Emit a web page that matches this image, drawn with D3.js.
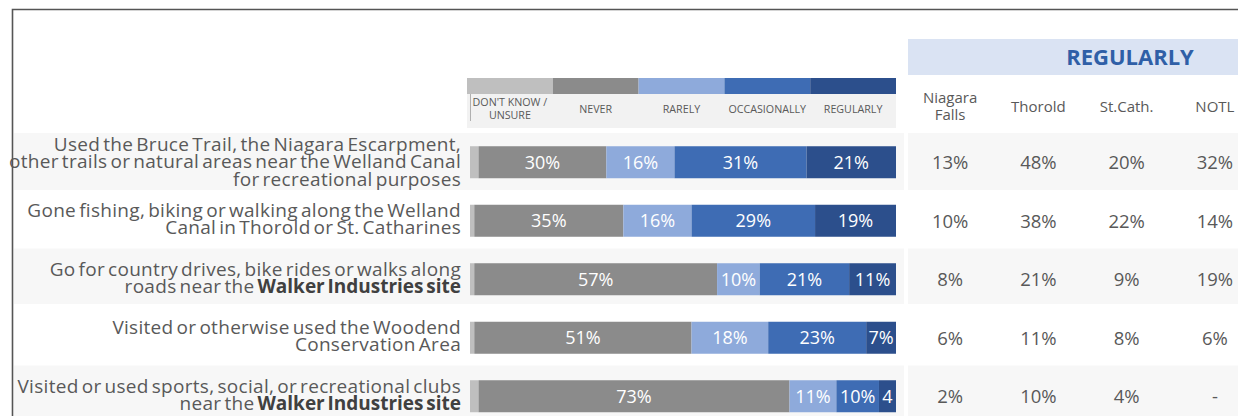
<!DOCTYPE html>
<html>
<head>
<meta charset="utf-8">
<script src="https://cdn.jsdelivr.net/npm/d3@7"></script>
<style>
  html, body { margin: 0; padding: 0; background: #fff; }
  svg { display: block; font-family: "Open Sans", "Noto Sans", sans-serif; }
</style>
</head>
<body>
<svg id="chart" width="1238" height="416"></svg>
<script>
// Activity statements (rows); bold fragments wrapped in **...**
const categories = [
  ["Used the Bruce Trail, the Niagara Escarpment,", "other trails or natural areas near the Welland Canal", "for recreational purposes"],
  ["Gone fishing, biking or walking along the Welland", "Canal in Thorold or St. Catharines"],
  ["Go for country drives, bike rides or walks along", "roads near the **Walker Industries site**"],
  ["Visited or otherwise used the Woodend", "Conservation Area"],
  ["Visited or used sports, social, or recreational clubs", "near the **Walker Industries site**"]
];

// Response levels, in stacking order
const levels = ["DON'T KNOW / UNSURE", "NEVER", "RARELY", "OCCASIONALLY", "REGULARLY"];
const levelColors = ["#bfbfbf", "#8b8b8b", "#8eaadb", "#3e6cb4", "#2c4f8c"];

// Percent of respondents per level, one value per row
const dontKnow     = [2, 1, 1, 1, 2];
const never        = [30, 35, 57, 51, 73];
const rarely       = [16, 16, 10, 18, 11];
const occasionally = [31, 29, 21, 23, 10];
const regularly    = [21, 19, 11, 7, 4];

// "Regularly" share by municipality (null = not reported)
const cities = [["Niagara", "Falls"], ["Thorold"], ["St.Cath."], ["NOTL"]];
const niagaraFalls = [13, 10, 8, 6, 2];
const thorold      = [48, 38, 21, 11, 10];
const stCath       = [20, 22, 9, 8, 4];
const notl         = [32, 14, 19, 6, null];

const seriesByLevel = [dontKnow, never, rarely, occasionally, regularly];
const cityValues = [niagaraFalls, thorold, stCath, notl];

const svg = d3.select("#chart");
const textColor = "#595959";

const rowIds = d3.range(categories.length);
const y = d3.scaleBand().domain(rowIds).range([133, 425.5]);
const x = d3.scaleLinear().domain([0, 100]).range([470, 896]);
const colX = d3.scaleBand().domain(d3.range(cities.length)).range([908, 1261]);

// Frame
svg.append("path")
  .attr("d", "M12.5,416 V9.5 H1238")
  .attr("fill", "none").attr("stroke", "#555").attr("stroke-width", 1.6);

// Alternating row shading
const shaded = rowIds.filter(i => i % 2 === 0);
const band = svg.append("g");
shaded.forEach(i => {
  const top = y(i) + (i === 0 ? 0 : -1.5);
  const h = i === 0 ? 57 : 55.5;
  band.append("rect").attr("x", 14).attr("y", top).attr("width", 890).attr("height", h).attr("fill", "#f7f7f7");
  band.append("rect").attr("x", 908).attr("y", top).attr("width", 330).attr("height", h).attr("fill", "#f7f7f7");
});

// Legend: colour strip with level names beneath
const legend = svg.append("g");
const segW = (x(100) - 467) / levels.length;
legend.append("rect").attr("x", 467).attr("y", 94).attr("width", x(100) - 467).attr("height", 34).attr("fill", "#f2f2f2");
levels.forEach((lv, i) => {
  legend.append("rect").attr("x", 467 + i * segW).attr("y", 78).attr("width", segW).attr("height", 16).attr("fill", levelColors[i]);
  const cx = 467 + (i + 0.5) * segW;
  const t = legend.append("text").attr("text-anchor", "middle").attr("fill", textColor).attr("font-size", 10.7);
  if (i === 0) {
    t.append("tspan").attr("x", cx).attr("y", 106).text("DON'T KNOW /");
    t.append("tspan").attr("x", cx).attr("y", 119).text("UNSURE");
  } else {
    t.attr("x", cx).attr("y", 113).text(lv);
  }
});
legend.append("line").attr("x1", 470.5).attr("x2", 470.5).attr("y1", 94).attr("y2", 121).attr("stroke", "#b0b0b0").attr("stroke-width", 1);

// Row labels
const labels = svg.append("g").attr("text-anchor", "end").attr("fill", textColor).attr("font-size", 19);
categories.forEach((lines, i) => {
  const cy = y(i) + y.bandwidth() / 2;
  const lh = 17.4;
  const t = labels.append("text").attr("letter-spacing", 0.3).attr("word-spacing", -2.2);
  lines.forEach((ln, j) => {
    const ly = cy + (j - (lines.length - 1) / 2) * lh + 6 - (lines.length === 3 ? 0 : 1);
    const ts = t.append("tspan").attr("x", 461).attr("y", ly);
    ln.split(/(\*\*[^*]+\*\*)/).filter(s => s.length).forEach(part => {
      const bold = part.startsWith("**");
      ts.append("tspan").attr("font-weight", bold ? 700 : 400).attr("fill", bold ? "#404040" : textColor)
        .attr("letter-spacing", bold ? 0 : null)
        .text(bold ? part.slice(2, -2) : part);
    });
  });
});

// Stacked bars
const stackData = rowIds.map(i => {
  const o = { row: i };
  levels.forEach((lv, k) => o[lv] = seriesByLevel[k][i]);
  return o;
});
const stacked = d3.stack().keys(levels)(stackData);
const barH = 32;
const bars = svg.append("g");
stacked.forEach((layer, k) => {
  const g = bars.append("g").attr("fill", levelColors[k]);
  layer.forEach(d => {
    const cy = y(d.data.row) + y.bandwidth() / 2;
    g.append("rect")
      .attr("x", x(d[0])).attr("y", cy - barH / 2)
      .attr("width", x(d[1]) - x(d[0])).attr("height", barH);
    if (k > 0) {
      const v = d[1] - d[0];
      const w = x(d[1]) - x(d[0]);
      bars.append("text")
        .attr("x", (x(d[0]) + x(d[1])) / 2)
        .attr("y", cy + 6.5)
        .attr("text-anchor", "middle")
        .attr("fill", "#fff").attr("font-size", 18)
        .text(w < 25 ? `${v}` : `${v}%`);
    }
  });
});

// Municipal table header
const head = svg.append("g");
head.append("rect").attr("x", 908).attr("y", 39).attr("width", 330).attr("height", 36).attr("fill", "#dae3f3");
head.append("text").attr("x", 1130).attr("y", 65).attr("text-anchor", "middle")
  .attr("font-size", 22).attr("font-weight", 700).attr("fill", "#2f5fa7").text("REGULARLY");
cities.forEach((c, j) => {
  const cx = colX(j) + colX.bandwidth() / 2 - 2;
  const t = head.append("text").attr("text-anchor", "middle").attr("fill", textColor).attr("font-size", 15);
  if (c.length === 2) {
    t.append("tspan").attr("x", cx).attr("y", 103).text(c[0]);
    t.append("tspan").attr("x", cx).attr("y", 120).text(c[1]);
  } else {
    t.attr("x", cx).attr("y", 112).text(c[0]);
  }
});

// Municipal values
const cells = svg.append("g").attr("text-anchor", "middle").attr("fill", textColor).attr("font-size", 18.5);
cityValues.forEach((vals, j) => {
  const cx = colX(j) + colX.bandwidth() / 2 - 2;
  vals.forEach((v, i) => {
    const cy = y(i) + y.bandwidth() / 2;
    cells.append("text").attr("x", cx).attr("y", cy + 7).text(v == null ? "-" : `${v}%`);
  });
});
</script>
</body>
</html>
